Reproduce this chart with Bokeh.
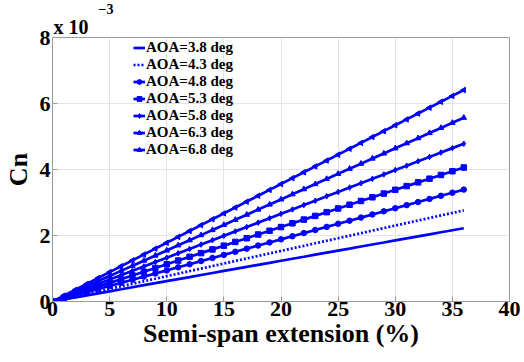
import math
from bokeh.plotting import figure
from bokeh.models import Range1d, FixedTicker, Title, Legend, LegendItem
from bokeh.embed import file_html
from bokeh.resources import INLINE

# Semi-span extension (%)
ext = list(range(0, 37))

# Cn values in units of 1e-3
cn_38 = [0, .062, .123, .185, .247, .309, .370, .432, .494, .555, .617, .679, .740, .802, .864, .926, .987, 1.049, 1.111, 1.172, 1.234, 1.296, 1.357, 1.419, 1.481, 1.543, 1.604, 1.666, 1.728, 1.789, 1.851, 1.913, 1.974, 2.036, 2.098, 2.160, 2.221]
cn_43 = [0, .077, .153, .230, .307, .384, .460, .537, .614, .690, .767, .844, .920, .997, 1.074, 1.151, 1.227, 1.304, 1.381, 1.457, 1.534, 1.611, 1.687, 1.764, 1.841, 1.918, 1.994, 2.071, 2.148, 2.224, 2.301, 2.378, 2.454, 2.531, 2.608, 2.685, 2.761]
cn_48 = [0, .094, .188, .283, .377, .471, .565, .659, .754, .848, .942, 1.036, 1.130, 1.225, 1.319, 1.413, 1.507, 1.601, 1.696, 1.790, 1.884, 1.978, 2.072, 2.167, 2.261, 2.355, 2.449, 2.543, 2.638, 2.732, 2.826, 2.920, 3.014, 3.109, 3.203, 3.297, 3.391]
cn_53 = [0, .113, .226, .338, .451, .564, .677, .790, .902, 1.015, 1.128, 1.241, 1.354, 1.466, 1.579, 1.692, 1.805, 1.918, 2.030, 2.143, 2.256, 2.369, 2.482, 2.594, 2.707, 2.820, 2.933, 3.046, 3.158, 3.271, 3.384, 3.497, 3.610, 3.722, 3.835, 3.948, 4.061]
cn_58 = [0, .133, .266, .398, .531, .664, .797, .930, 1.062, 1.195, 1.328, 1.461, 1.594, 1.726, 1.859, 1.992, 2.125, 2.258, 2.390, 2.523, 2.656, 2.789, 2.922, 3.054, 3.187, 3.320, 3.453, 3.586, 3.718, 3.851, 3.984, 4.117, 4.250, 4.382, 4.515, 4.648, 4.781]
cn_63 = [0, .155, .309, .464, .619, .774, .928, 1.083, 1.238, 1.392, 1.547, 1.702, 1.856, 2.011, 2.166, 2.321, 2.475, 2.630, 2.785, 2.939, 3.094, 3.249, 3.403, 3.558, 3.713, 3.868, 4.022, 4.177, 4.332, 4.486, 4.641, 4.796, 4.950, 5.105, 5.260, 5.415, 5.569]
cn_68 = [0, .178, .356, .534, .712, .890, 1.068, 1.246, 1.424, 1.602, 1.780, 1.958, 2.136, 2.314, 2.492, 2.670, 2.848, 3.026, 3.204, 3.382, 3.560, 3.738, 3.916, 4.094, 4.272, 4.450, 4.628, 4.806, 4.984, 5.162, 5.340, 5.518, 5.696, 5.874, 6.052, 6.230, 6.408]

labels = ["AOA=3.8 deg", "AOA=4.3 deg", "AOA=4.8 deg", "AOA=5.3 deg",
          "AOA=5.8 deg", "AOA=6.3 deg", "AOA=6.8 deg"]
series = [cn_38, cn_43, cn_48, cn_53, cn_58, cn_63, cn_68]
markers = [None, None, "circle", "square", "diamond", "triangle", "triangle"]
angles = [0, 0, 0, 0, 0, 0, math.pi / 2]
x_ticks = [0, 5, 10, 15, 20, 25, 30, 35, 40]
y_ticks = [0, 2, 4, 6, 8]

FONT = "Liberation Serif"
BLUE = "#0000ff"

p = figure(width=524, height=362, output_backend="svg", toolbar_location=None,
           x_range=Range1d(0, 40), y_range=Range1d(0, 8),
           min_border_left=49, min_border_right=15, min_border_top=37,
           min_border_bottom=61)
p.outline_line_color = "#9a9a9a"
p.outline_line_width = 1
p.background_fill_color = "white"
p.border_fill_color = "white"

for ax in (p.xaxis[0], p.yaxis[0]):
    ax.major_label_text_font = FONT
    ax.major_label_text_font_style = "bold"
    ax.major_label_text_font_size = "22px"
    ax.major_label_text_color = "black"
    ax.axis_label_text_font = FONT
    ax.axis_label_text_font_style = "bold"
    ax.axis_label_text_font_size = "26px"
    ax.axis_label_text_color = "black"
    ax.axis_line_color = "#9a9a9a"
    ax.major_tick_in = 5
    ax.major_tick_out = 0
    ax.major_tick_line_color = "#9a9a9a"
    ax.minor_tick_line_color = None

p.xaxis.ticker = FixedTicker(ticks=x_ticks)
p.yaxis.ticker = FixedTicker(ticks=y_ticks)
p.xaxis.axis_label = "Semi-span extension (%)"
p.yaxis.axis_label = "Cn"
p.xaxis.major_label_standoff = 0
p.yaxis.major_label_standoff = 2
p.xaxis.axis_label_standoff = 0
p.yaxis.axis_label_standoff = 4
p.grid.grid_line_color = "#e4e4e4"
p.grid.grid_line_width = 1

items = []
for lab, ys, mk, ang in zip(labels, series, markers, angles):
    rs = []
    dash = "2 2" if lab == "AOA=4.3 deg" else "solid"
    rs.append(p.line(ext, ys, line_color=BLUE, line_width=2.7, line_dash=dash))
    if mk is not None:
        rs.append(p.scatter(ext, ys, marker=mk, size=5.5, angle=ang,
                            line_color=BLUE, fill_color=BLUE))
    items.append(LegendItem(label=lab, renderers=rs))

legend = Legend(items=items, location=(81, 143), orientation="vertical")
legend.label_text_font = FONT
legend.label_text_font_style = "bold"
legend.label_text_font_size = "15px"
legend.label_text_color = "black"
legend.label_height = 17
legend.glyph_height = 17
legend.glyph_width = 12
legend.label_standoff = 1
legend.spacing = 0
legend.padding = 0
legend.margin = 0
legend.border_line_color = None
legend.background_fill_alpha = 0
p.add_layout(legend)

# Axis multiplier "x 10^-3" shown above the top-left corner of the frame
mult = Title(text="x 10", align="left", offset=1, standoff=0,
             text_font=FONT, text_font_style="bold", text_font_size="20px",
             text_color="black")
expo = Title(text="\u22123", align="left", offset=46, standoff=0,
             text_font=FONT, text_font_style="bold", text_font_size="14px",
             text_color="black")
p.add_layout(mult, "above")
p.add_layout(expo, "above")

open("out.html", "w").write(file_html(p, INLINE))
